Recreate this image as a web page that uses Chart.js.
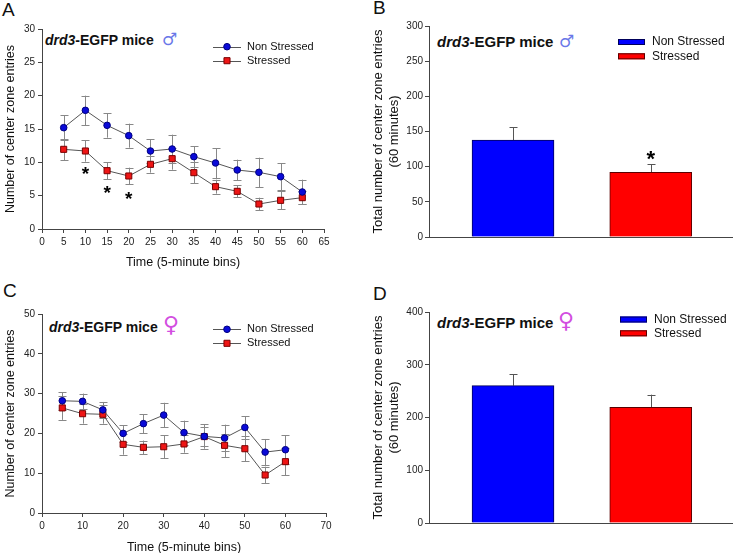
<!DOCTYPE html>
<html>
<head>
<meta charset="utf-8">
<script src="https://cdn.jsdelivr.net/npm/chart.js@4.4.1/dist/chart.umd.min.js"></script>
<style>
  body { margin: 0; background: #fff; width: 735px; height: 553px; overflow: hidden; position: relative;
         font-family: "Liberation Sans", Arial, sans-serif; color: #111; }
  canvas { position: absolute; }
  .letter { position: absolute; font-size: 19px; line-height: 20px; }
  .ttl { position: absolute; font-weight: bold; white-space: nowrap; line-height: 18px; }
  .ttl i { font-style: italic; }
  .sym { font-family: "DejaVu Sans", sans-serif; font-weight: normal; position: absolute; }
</style>
</head>
<body>
<div class="letter" style="left:2px;top:0px">A</div>
<div class="letter" style="left:373px;top:-2px">B</div>
<div class="letter" style="left:3px;top:281px">C</div>
<div class="letter" style="left:373px;top:284px">D</div>

<div class="ttl" style="left:45px;top:31px;font-size:14px"><i>drd3</i>-EGFP mice<span class="sym" style="left:117px;top:-1px;font-size:17px;color:#6a78e8">&#9794;</span></div>
<div class="ttl" style="left:437px;top:33px;font-size:15px"><i>drd3</i>-EGFP mice<span class="sym" style="left:122px;top:-1px;font-size:17px;color:#6a78e8">&#9794;</span></div>
<div class="ttl" style="left:49px;top:318px;font-size:14px"><i>drd3</i>-EGFP mice<span class="sym" style="left:114px;top:-2px;font-size:22px;color:#d24de0">&#9792;</span></div>
<div class="ttl" style="left:437px;top:314px;font-size:15px"><i>drd3</i>-EGFP mice<span class="sym" style="left:121px;top:-2px;font-size:22px;color:#d24de0">&#9792;</span></div>

<canvas id="cA" width="340" height="285" style="left:0;top:0"></canvas>
<canvas id="cB" width="375" height="285" style="left:360px;top:0"></canvas>
<canvas id="cC" width="340" height="285" style="left:0;top:280px"></canvas>
<canvas id="cD" width="375" height="285" style="left:360px;top:280px"></canvas>

<script>
// ---- data ----
const timeBins = [5, 10, 15, 20, 25, 30, 35, 40, 45, 50, 55, 60];

const maleNonStressed    = [15.2, 17.8, 15.55, 14.0, 11.7, 12.0, 10.85, 9.9, 8.85, 8.5, 7.85, 5.55];
const maleNonStressedErr = [1.9, 2.2, 1.85, 1.8, 1.75, 2.15, 1.55, 2.25, 1.55, 2.2, 2.05, 1.85];
const maleStressed       = [11.95, 11.7, 8.75, 7.95, 9.7, 10.55, 8.45, 6.35, 5.65, 3.75, 4.3, 4.7];
const maleStressedErr    = [1.6, 1.6, 1.3, 1.25, 1.25, 1.65, 1.55, 1.05, 0.9, 0.95, 1.35, 0.95];
const maleStarBins   = [10, 15, 20];
const maleStarLevels = [9.05, 6.15, 5.2];

const femaleNonStressed    = [28.2, 28.05, 25.9, 20.0, 22.45, 24.6, 20.2, 19.25, 18.85, 21.5, 15.3, 15.9];
const femaleNonStressedErr = [2.2, 1.95, 2.0, 2.1, 2.4, 3.1, 3.0, 3.1, 3.35, 2.8, 3.3, 3.6];
const femaleStressed       = [26.4, 24.95, 24.8, 17.25, 16.5, 16.65, 17.35, 19.2, 17.0, 16.15, 9.55, 12.9];
const femaleStressedErr    = [3.0, 2.5, 2.35, 2.6, 1.7, 2.85, 2.2, 2.3, 2.95, 3.2, 2.1, 3.45];

const groups = ['Non Stressed', 'Stressed'];
const maleTotal      = [137.7, 91.8];
const maleTotalErr   = [18.5, 11.8];
const maleTotalStarGroup = [1];
const maleTotalStarLevel = [119];
const femaleTotal    = [260.3, 219.3];
const femaleTotalErr = [21.5, 24];

// ---- plugins ----
const errorBars = {
  id: 'errorBars',
  beforeDatasetsDraw(chart) {
    const ctx = chart.ctx, ys = chart.scales.y;
    chart.data.datasets.forEach((ds, i) => {
      if (!ds.err) return;
      const meta = chart.getDatasetMeta(i);
      ctx.save();
      ctx.lineWidth = 1;
      meta.data.forEach((el, j) => {
        const d = ds.data[j];
        const v = typeof d === 'object' ? d.y : d;
        const e = ds.err[j];
        const x = Math.round(el.x) + 0.5;
        const top = ys.getPixelForValue(v + e);
        const bot = ds.upOnly ? ys.getPixelForValue(v) : ys.getPixelForValue(v - e);
        ctx.strokeStyle = ds.errColor;
        ctx.beginPath();
        ctx.moveTo(x, top); ctx.lineTo(x, bot);
        ctx.moveTo(x - 4, Math.round(top) + 0.5); ctx.lineTo(x + 4, Math.round(top) + 0.5);
        if (!ds.upOnly) { ctx.moveTo(x - 4, Math.round(bot) + 0.5); ctx.lineTo(x + 4, Math.round(bot) + 0.5); }
        ctx.stroke();
      });
      ctx.restore();
    });
  }
};

const stars = {
  id: 'stars',
  afterDatasetsDraw(chart, args, opts) {
    if (!opts.xs) return;
    const ctx = chart.ctx;
    ctx.save();
    ctx.font = 'bold ' + opts.size + 'px "Liberation Sans", Arial';
    ctx.fillStyle = '#000';
    ctx.textAlign = 'center';
    ctx.textBaseline = 'alphabetic';
    opts.xs.forEach((xv, k) => {
      const x = chart.scales.x.getPixelForValue(xv);
      const y = chart.scales.y.getPixelForValue(opts.ys[k]);
      ctx.fillText('*', x, y + opts.size * 0.58);
    });
    ctx.restore();
  }
};

const keyBox = {
  id: 'keyBox',
  afterDraw(chart, args, opts) {
    if (!opts.kind) return;
    const ctx = chart.ctx;
    ctx.save();
    ctx.font = opts.size + 'px "Liberation Sans", Arial';
    ctx.textBaseline = 'middle';
    if (opts.kind === 'line') {
      chart.data.datasets.forEach((ds, k) => {
        const y = opts.y + k * opts.gap;
        ctx.strokeStyle = '#555';
        ctx.lineWidth = 1;
        ctx.beginPath();
        ctx.moveTo(opts.x, Math.round(y) + 0.5); ctx.lineTo(opts.x + opts.len, Math.round(y) + 0.5);
        ctx.stroke();
        const cx = opts.x + opts.len / 2;
        ctx.fillStyle = ds.pointBackgroundColor;
        ctx.strokeStyle = ds.pointBorderColor;
        ctx.beginPath();
        if (ds.pointStyle === 'rect') {
          const h = ds.pointRadius * Math.SQRT1_2;
          ctx.rect(cx - h, y - h, 2 * h, 2 * h);
        } else {
          ctx.arc(cx, y, ds.pointRadius, 0, Math.PI * 2);
        }
        ctx.fill(); ctx.stroke();
        ctx.fillStyle = '#111';
        ctx.fillText(ds.label, opts.x + opts.len + 6, y);
      });
    } else {
      const ds = chart.data.datasets[0];
      groups.forEach((lab, k) => {
        const y = opts.y + k * opts.gap;
        ctx.fillStyle = ds.backgroundColor[k];
        ctx.strokeStyle = ds.borderColor[k];
        ctx.lineWidth = 1;
        ctx.fillRect(opts.x, y - 3, opts.len, 6);
        ctx.strokeRect(opts.x + 0.5, y - 2.5, opts.len - 1, 5);
        ctx.fillStyle = '#111';
        ctx.fillText(lab, opts.x + opts.len + 7, y);
      });
    }
    ctx.restore();
  }
};

Chart.defaults.font.family = '"Liberation Sans", Arial, sans-serif';
Chart.defaults.color = '#222';
Chart.register(errorBars, stars, keyBox);

const axisColor = '#444';

function pairs(xs, ys) { return xs.map((x, i) => ({ x: x, y: ys[i] })); }

function lineChart(id, nonS, nonSErr, str, strErr, xMax, xStep, yMax, yStep, pad, xH, titlePadX, key, starOpts) {
  return new Chart(document.getElementById(id), {
    type: 'line',
    data: {
      datasets: [
        { label: 'Non Stressed', data: pairs(timeBins, nonS), err: nonSErr, errColor: '#888',
          borderColor: '#555', borderWidth: 1, pointStyle: 'circle', pointRadius: 3.3,
          pointBackgroundColor: '#0a0ad8', pointBorderColor: '#000080', pointBorderWidth: 1 },
        { label: 'Stressed', data: pairs(timeBins, str), err: strErr, errColor: '#888',
          borderColor: '#555', borderWidth: 1, pointStyle: 'rect', pointRadius: 4.3,
          pointBackgroundColor: '#ee1515', pointBorderColor: '#7a0000', pointBorderWidth: 1 }
      ]
    },
    options: {
      responsive: false, animation: false, devicePixelRatio: 1,
      layout: { padding: pad },
      plugins: { legend: { display: false }, tooltip: { enabled: false }, keyBox: key, stars: starOpts || {} },
      scales: {
        x: {
          type: 'linear', min: 0, max: xMax, offset: false,
          afterFit: s => { s.height = xH; },
          ticks: { stepSize: xStep, font: { size: 10 }, padding: 3, maxRotation: 0 },
          grid: { display: true, drawOnChartArea: false, tickLength: 4, color: axisColor },
          border: { display: true, color: axisColor },
          title: { display: true, text: 'Time (5-minute bins)', font: { size: 12.5 }, padding: titlePadX, color: '#111' }
        },
        y: {
          min: 0, max: yMax,
          afterFit: s => { s.width = 42; },
          ticks: { stepSize: yStep, font: { size: 10 }, padding: 3 },
          grid: { display: true, drawOnChartArea: false, tickLength: 4, color: axisColor },
          border: { display: true, color: axisColor },
          title: { display: true, text: 'Number of center zone entries', font: { size: 12.5 }, padding: 3, color: '#111' }
        }
      }
    }
  });
}

// bars sit on a numeric group axis (0 = Non Stressed, 1 = Stressed); the axis range leaves
// the wider margin on the left and the narrower one on the right, as in the figure
function barChart(id, vals, errs, yMax, yStep, pad, xH, key, starOpts) {
  return new Chart(document.getElementById(id), {
    type: 'bar',
    data: {
      datasets: [{
        label: 'Total', data: vals.map((v, i) => ({ x: i, y: v })), err: errs, errColor: '#555', upOnly: true,
        backgroundColor: ['#0000ff', '#ff0000'], borderColor: ['#00005a', '#5a0000'], borderWidth: 1,
        barThickness: 82
      }]
    },
    options: {
      responsive: false, animation: false, devicePixelRatio: 1,
      layout: { padding: pad },
      plugins: { legend: { display: false }, tooltip: { enabled: false }, keyBox: key, stars: starOpts || {} },
      scales: {
        x: {
          type: 'linear', min: -0.61, max: 1.59, offset: false,
          afterFit: s => { s.height = xH; },
          ticks: { display: false },
          grid: { display: false },
          border: { display: true, color: axisColor }
        },
        y: {
          min: 0, max: yMax,
          afterFit: s => { s.width = 69; },
          ticks: { stepSize: yStep, font: { size: 10 }, padding: 2 },
          grid: { display: true, drawOnChartArea: false, tickLength: 4, color: axisColor },
          border: { display: true, color: axisColor },
          title: { display: true, text: ['Total number of center zone entries', '(60 minutes)'],
                   font: { size: 13 }, padding: 11, color: '#111' }
        }
      }
    }
  });
}

lineChart('cA', maleNonStressed, maleNonStressedErr, maleStressed, maleStressedErr,
  65, 5, 30, 5, { left: 0, top: 29, right: 16, bottom: 0 }, 56, 15,
  { kind: 'line', x: 213, y: 46.7, gap: 14, len: 28, size: 11 },
  { xs: maleStarBins, ys: maleStarLevels, size: 19 });

barChart('cB', maleTotal, maleTotalErr, 300, 50, { left: 0, top: 26, right: 3, bottom: 0 }, 48,
  { kind: 'box', x: 258, y: 42, gap: 14.3, len: 27, size: 12 },
  { xs: maleTotalStarGroup, ys: maleTotalStarLevel, size: 22 });

lineChart('cC', femaleNonStressed, femaleNonStressedErr, femaleStressed, femaleStressedErr,
  70, 10, 50, 10, { left: 0, top: 34, right: 14, bottom: 0 }, 52, 10,
  { kind: 'line', x: 213, y: 49.3, gap: 14, len: 28, size: 11 });

barChart('cD', femaleTotal, femaleTotalErr, 400, 100, { left: 0, top: 32, right: 3, bottom: 0 }, 42,
  { kind: 'box', x: 260, y: 39.5, gap: 13.8, len: 27, size: 12 });
</script>
</body>
</html>
